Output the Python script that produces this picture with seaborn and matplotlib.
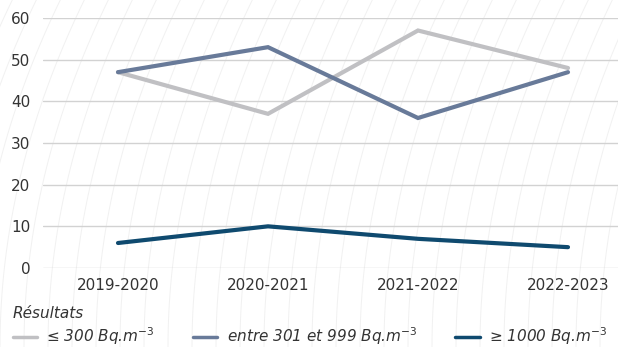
import numpy as np
import pandas as pd
import matplotlib
matplotlib.use("Agg")
import matplotlib.pyplot as plt
from matplotlib.lines import Line2D
import seaborn as sns

periods = ["2019-2020", "2020-2021", "2021-2022", "2022-2023"]
series_names = ["≤ 300 Bq.m$^{-3}$", "entre 301 et 999 Bq.m$^{-3}$", "≥ 1000 Bq.m$^{-3}$"]
low_vals = [47, 37, 57, 48]
mid_vals = [47, 53, 36, 47]
high_vals = [6, 10, 7, 5]
yticks = [0, 10, 20, 30, 40, 50, 60]
legend_title = "Résultats"
colors = ["#c0c0c3", "#687a99", "#0f4a6f"]

df = pd.DataFrame({
    "period": periods * 3,
    "value": low_vals + mid_vals + high_vals,
    "series": [series_names[0]] * 4 + [series_names[1]] * 4 + [series_names[2]] * 4,
})

sns.set_theme(style="white")
plt.rcParams["font.family"] = ["DejaVu Sans"]

W, H = 618, 347
fig = plt.figure(figsize=(W / 100, H / 100), dpi=100, facecolor="white")

# faint decorative background hatching
for x0 in np.arange(-120, W + 40, 24):
    ys = np.linspace(0, H, 40)
    xs = x0 + 0.0007 * ys ** 2
    fig.add_artist(Line2D(xs / W, ys / H, transform=fig.transFigure,
                          color="#f1f1f1", lw=0.7, zorder=0))

ax = fig.add_axes([43 / W, 1 - 268 / H, 600 / W, 250 / H])
ax.patch.set_alpha(0)

sns.lineplot(data=df, x="period", y="value", hue="series", palette=colors,
             hue_order=series_names, sort=False, lw=3.0, ax=ax, zorder=3)
for ln in ax.lines:
    ln.set_solid_capstyle("round")
    ln.set_solid_joinstyle("miter")

ax.set_xlim(-0.5, 3.5)
ax.set_ylim(0, 60)
ax.set_yticks(yticks)
ax.grid(axis="y", color="#d2d2d2", lw=1.0)
ax.grid(axis="x", visible=False)
for s in ax.spines.values():
    s.set_visible(False)
ax.set_xlabel("")
ax.set_ylabel("")
ax.tick_params(axis="both", length=0, labelsize=11, labelcolor="#333333")
ax.tick_params(axis="y", pad=9)
ax.tick_params(axis="x", pad=7)

handles, labels = ax.get_legend_handles_labels()
ax.get_legend().remove()
for h in handles:
    h.set_linewidth(2.5)
leg = fig.legend(handles, labels, loc="lower left", bbox_to_anchor=(2 / W, -11 / H),
                 ncol=3, frameon=False, title=legend_title, alignment="left",
                 prop={"style": "italic", "size": 11},
                 title_fontproperties={"style": "italic", "size": 11},
                 handlelength=1.6, handletextpad=0.6, columnspacing=2.5,
                 labelspacing=0.3, borderaxespad=0.3)
for t in leg.get_texts():
    t.set_color("#333333")
leg.get_title().set_color("#333333")

fig.savefig("out.png", dpi=100, facecolor="white")
